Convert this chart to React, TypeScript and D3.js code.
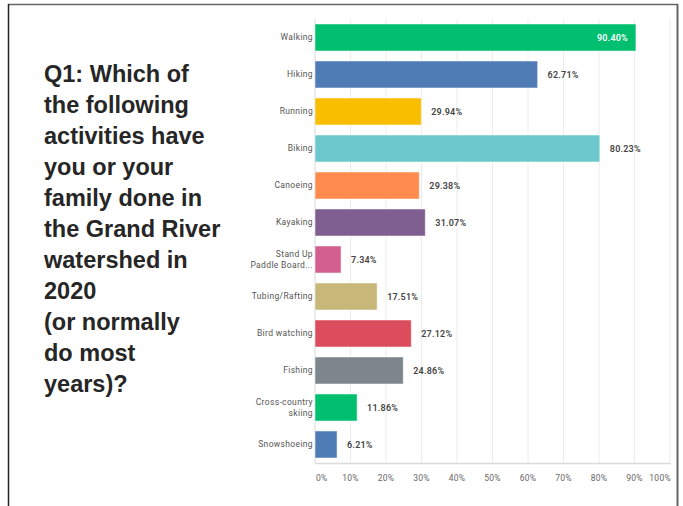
import React from "react";
import * as d3 from "d3";

const categories = [
  "Walking",
  "Hiking",
  "Running",
  "Biking",
  "Canoeing",
  "Kayaking",
  "Stand Up\nPaddle Board...",
  "Tubing/Rafting",
  "Bird watching",
  "Fishing",
  "Cross-country\nskiing",
  "Snowshoeing",
];
const values = [90.4, 62.71, 29.94, 80.23, 29.38, 31.07, 7.34, 17.51, 27.12, 24.86, 11.86, 6.21];
const colors = [
  "#00BF6F",
  "#507CB6",
  "#F9BE00",
  "#6BC8CD",
  "#FF8B4F",
  "#7F5F90",
  "#D25F90",
  "#C7B879",
  "#DB4D5C",
  "#7D868C",
  "#00BF6F",
  "#507CB6",
];
const tickValues = [0, 10, 20, 30, 40, 50, 60, 70, 80, 90, 100];
const titleLines = [
  "Q1: Which of",
  "the following",
  "activities have",
  "you or your",
  "family done in",
  "the Grand River",
  "watershed in",
  "2020",
  "(or normally",
  "do most",
  "years)?",
];

const W = 683;
const H = 506;
const labelFont = "Roboto, 'Noto Sans', sans-serif";

export default function App() {
  const x = d3.scaleLinear().domain([0, 100]).range([315, 670]);
  const y = d3
    .scaleBand<string>()
    .domain(categories)
    .range([19, 463])
    .paddingInner(0.27)
    .paddingOuter(0.135);
  const bw = y.bandwidth();

  return (
    <div style={{ position: "fixed", left: 0, top: 0, width: W, height: H, background: "#fff" }}>
      <svg width={W} height={H} style={{ display: "block" }}>
        <rect x={0} y={0} width={W} height={H} fill="#fff" />
        {/* frame */}
        <line x1={8} y1={4.5} x2={678} y2={4.5} stroke="#666" strokeWidth={1.5} />
        <line x1={8.5} y1={4} x2={8.5} y2={H} stroke="#222" strokeWidth={1.5} />
        <line x1={677.5} y1={4} x2={677.5} y2={H} stroke="#666" strokeWidth={2} />

        {/* title */}
        <text
          fontFamily="'Liberation Sans', Arial, sans-serif"
          fontWeight="bold"
          fontSize={23.5}
          fill="#262626"
        >
          {titleLines.map((l, i) => (
            <tspan key={i} x={44} y={82 + 31 * i}>
              {l}
            </tspan>
          ))}
        </text>

        {/* grid */}
        {tickValues.map((t) => (
          <line
            key={t}
            x1={x(t)}
            x2={x(t)}
            y1={19}
            y2={463}
            stroke={t === 0 ? "#d8d8d8" : "#ececec"}
            strokeWidth={1}
          />
        ))}
        <line x1={315} x2={671} y1={463.5} y2={463.5} stroke="#dcdcdc" strokeWidth={1.5} />

        {/* bars */}
        {categories.map((c, i) => {
          const y0 = y(c)!;
          const cy = y0 + bw / 2;
          const v = values[i];
          const inside = v > 85;
          const lines = c.split("\n");
          return (
            <g key={c}>
              <rect
                x={x(0)}
                y={y0}
                width={x(v) - x(0)}
                height={bw}
                fill={colors[i]}
                stroke="rgba(255,255,255,0.5)"
                strokeWidth={1}
              />
              <text
                x={inside ? x(v) - 8 : x(v) + 10}
                y={cy}
                dy="0.35em"
                textAnchor={inside ? "end" : "start"}
                fontFamily={labelFont}
                fontSize={9}
                fontWeight={600}
                letterSpacing={0.2}
                fill={inside ? "#fff" : "#444"}
              >
                {v.toFixed(2)}%
              </text>
              <text
                x={313}
                textAnchor="end"
                fontFamily={labelFont}
                fontSize={8.5}
                letterSpacing={0.35}
                fill="#555"
              >
                {lines.map((l, j) => (
                  <tspan key={j} x={313} y={cy + (j - (lines.length - 1) / 2) * 10.5} dy="0.35em">
                    {l}
                  </tspan>
                ))}
              </text>
            </g>
          );
        })}

        {/* x tick labels */}
        {tickValues.map((t, i) => (
          <text
            key={t}
            x={i === 0 ? x(t) + 1 : i === tickValues.length - 1 ? x(t) + 1 : x(t)}
            y={481}
            textAnchor={i === 0 ? "start" : i === tickValues.length - 1 ? "end" : "middle"}
            fontFamily={labelFont}
            fontSize={8.5}
            letterSpacing={0.3}
            fill="#666"
          >
            {t}%
          </text>
        ))}
      </svg>
    </div>
  );
}
